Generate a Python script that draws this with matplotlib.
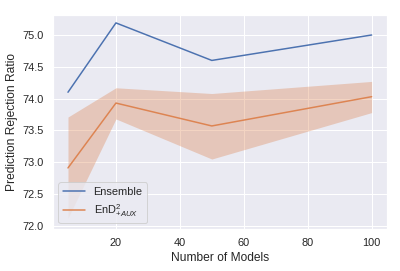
import matplotlib
matplotlib.use("Agg")
import matplotlib.pyplot as plt
import seaborn as sns

# Werte
n_models = [5, 20, 50, 100]
ensemble = [74.10, 75.19, 74.60, 75.00]
end2_aux = [72.91, 73.93, 73.57, 74.03]
end2_lower = [72.12, 73.68, 73.05, 73.78]
end2_upper = [73.71, 74.17, 74.08, 74.27]

sns.set_theme(style="darkgrid")
plt.rcParams['font.family'] = ['Liberation Sans', 'DejaVu Sans']
plt.rcParams['mathtext.fontset'] = 'custom'
plt.rcParams['mathtext.rm'] = 'Liberation Sans'
plt.rcParams['mathtext.it'] = 'Liberation Sans:italic'

fig = plt.figure(figsize=(400 / 72, 271 / 72), dpi=72)
ax = fig.add_axes([0.132, 0.155, 0.835, 0.791])

pal = sns.color_palette("deep")
ax.plot(n_models, ensemble, color=pal[0], linewidth=1.5, label="Ensemble")
ax.plot(n_models, end2_aux, color=pal[1], linewidth=1.5, label=r"EnD$^2_{+AUX}$")
ax.fill_between(n_models, end2_lower, end2_upper, color=pal[1], alpha=0.35, linewidth=0)

ax.set_xticks([20, 40, 60, 80, 100])
ax.set_yticks([72.0, 72.5, 73.0, 73.5, 74.0, 74.5, 75.0])
ax.set_ylim(71.95, 75.32)
ax.set_xlabel("Number of Models")
ax.set_ylabel("Prediction Rejection Ratio")
ax.legend(loc="lower left")

fig.savefig("out.png", dpi=72)
